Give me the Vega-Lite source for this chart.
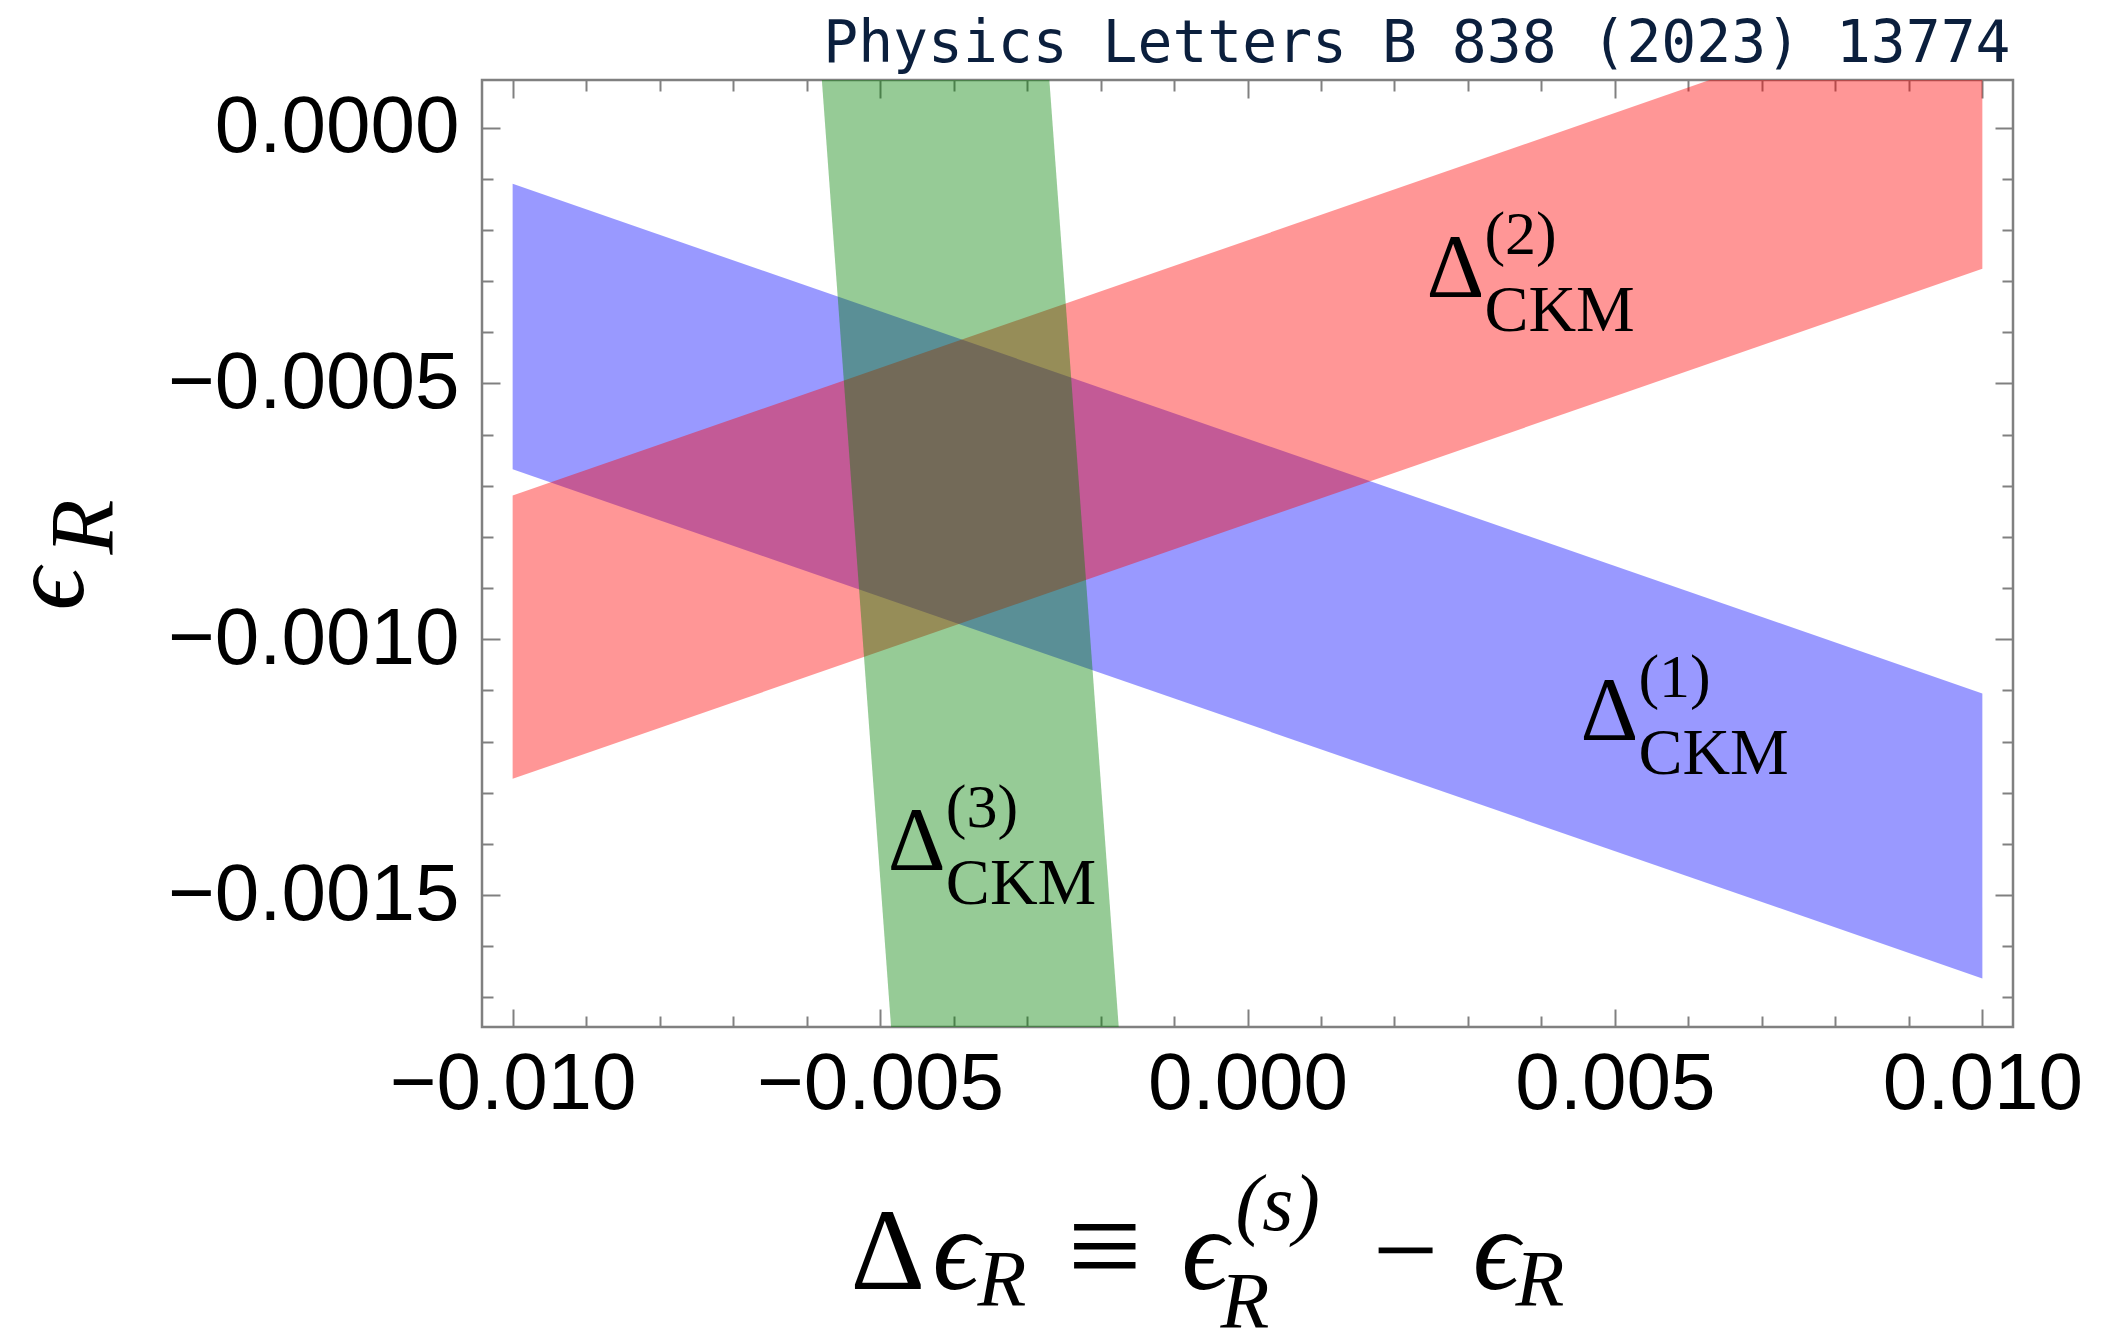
{
  "$schema": "https://vega.github.io/schema/vega-lite/v6.json",
  "autosize": {"type": "none"},
  "width": 1531,
  "height": 947,
  "padding": {"left": 482, "top": 80, "right": 106, "bottom": 304},
  "background": "white",
  "config": {
    "view": {"stroke": "#808080", "strokeWidth": 2.5},
    "axis": {
      "grid": false,
      "domain": false,
      "labelLimit": 0,
      "labelOverlap": false,
      "labelFlush": false,
      "tickColor": "#808080",
      "tickWidth": 2,
      "zindex": 1,
      "titleColor": "#000000",
      "titleFontWeight": "normal",
      "titleAlign": "left",
      "titleBaseline": "alphabetic",
      "titleAnchor": "start"
    }
  },
  "datasets": {
    "ckm1": [
      {"x": -0.01, "lo": -0.000668, "hi": -0.000110},
      {"x": 0.01, "lo": -0.001663, "hi": -0.001106}
    ],
    "ckm2": [
      {"x": -0.01, "lo": -0.001273, "hi": -0.000719},
      {"x": 0.01, "lo": -0.000276, "hi": 0.000278}
    ],
    "ckm3": [
      {"y": 0.0001, "left": -0.005796, "right": -0.002700},
      {"y": -0.0018, "left": -0.004829, "right": -0.001731}
    ],
    "labels": [
      {"x": 0.00453, "y": -0.001197, "main": "Δ", "sub": "CKM", "sup": "(1)"},
      {"x": 0.002435, "y": -0.000331, "main": "Δ", "sub": "CKM", "sup": "(2)"},
      {"x": -0.004894, "y": -0.001451, "main": "Δ", "sub": "CKM", "sup": "(3)"}
    ]
  },
  "resolve": {"axis": {"x": "independent", "y": "independent"}},
  "layer": [
    {
      "data": {"name": "ckm1"},
      "mark": {"type": "area", "orient": "vertical", "clip": true, "color": "#0000ff", "fillOpacity": 0.4},
      "encoding": {
        "x": {
          "field": "x", "type": "quantitative",
          "scale": {"domain": [-0.010417, 0.010417], "nice": false, "zero": false},
          "axis": {
            "orient": "bottom",
            "values": [-0.01, -0.005, 0, 0.005, 0.01],
            "format": ".3f",
            "tickSize": -18,
            "labelFont": "Liberation Sans",
            "labelFontSize": 80,
            "labelColor": "#000000",
            "labelBaseline": "alphabetic",
            "labelPadding": 99,
            "title": "Δ",
            "titleFont": "Liberation Serif",
            "titleFontSize": 116,
            "titleX": 368,
            "titleY": 261,
            "titleAngle": 0
          }
        },
        "y": {
          "field": "hi", "type": "quantitative",
          "scale": {"domain": [-0.001758, 0.000093], "nice": false, "zero": false},
          "axis": {
            "orient": "left",
            "values": [0, -0.0005, -0.001, -0.0015],
            "format": ".4f",
            "tickSize": -18,
            "labelFont": "Liberation Sans",
            "labelFontSize": 80,
            "labelColor": "#000000",
            "labelPadding": 41,
            "title": "ϵ",
            "titleFont": "Liberation Serif, DejaVu Serif",
            "titleFontStyle": "italic",
            "titleFontSize": 106,
            "titleX": -400,
            "titleY": 530,
            "titleAngle": 270
          }
        },
        "y2": {"field": "lo"}
      }
    },
    {
      "data": {"name": "ckm2"},
      "mark": {"type": "area", "orient": "vertical", "clip": true, "color": "#ff0000", "fillOpacity": 0.41},
      "encoding": {
        "x": {
          "field": "x", "type": "quantitative",
          "scale": {"domain": [-0.010417, 0.010417], "nice": false, "zero": false},
          "axis": {
            "orient": "bottom",
            "values": [-0.009, -0.008, -0.007, -0.006, -0.004, -0.003, -0.002, -0.001, 0.001, 0.002, 0.003, 0.004, 0.006, 0.007, 0.008, 0.009],
            "tickSize": -11,
            "labels": false,
            "title": "ϵ",
            "titleFont": "Liberation Serif, DejaVu Serif",
            "titleFontStyle": "italic",
            "titleFontSize": 116,
            "titleX": 450,
            "titleY": 261,
            "titleAngle": 0
          }
        },
        "y": {
          "field": "hi", "type": "quantitative",
          "scale": {"domain": [-0.001758, 0.000093], "nice": false, "zero": false},
          "axis": {
            "orient": "left",
            "values": [-0.0001, -0.0002, -0.0003, -0.0004, -0.0006, -0.0007, -0.0008, -0.0009, -0.0011, -0.0012, -0.0013, -0.0014, -0.0016, -0.0017],
            "tickSize": -11,
            "labels": false,
            "title": "R",
            "titleFont": "Liberation Serif",
            "titleFontStyle": "italic",
            "titleFontSize": 90,
            "titleX": -370,
            "titleY": 474,
            "titleAngle": 270
          }
        },
        "y2": {"field": "lo"}
      }
    },
    {
      "data": {"name": "ckm3"},
      "mark": {"type": "area", "orient": "horizontal", "clip": true, "color": "#008000", "fillOpacity": 0.41},
      "encoding": {
        "y": {
          "field": "y", "type": "quantitative",
          "scale": {"domain": [-0.001758, 0.000093], "nice": false, "zero": false},
          "axis": {
            "orient": "right",
            "values": [0, -0.0005, -0.001, -0.0015],
            "tickSize": -18,
            "labels": false,
            "title": "(s)",
            "titleFont": "Liberation Serif",
            "titleFontStyle": "italic",
            "titleFontSize": 80,
            "titleX": -778,
            "titleY": 1149,
            "titleAngle": 0
          }
        },
        "x": {
          "field": "left", "type": "quantitative",
          "scale": {"domain": [-0.010417, 0.010417], "nice": false, "zero": false},
          "axis": {
            "orient": "top",
            "values": [-0.01, -0.005, 0, 0.005, 0.01],
            "tickSize": -18,
            "labels": false,
            "title": "Physics Letters B 838 (2023) 13774",
            "titleFont": "DejaVu Sans Mono",
            "titleFontSize": 58,
            "titleColor": "#0b1f3d",
            "titleAlign": "right",
            "titleX": 1528,
            "titleY": -19,
            "titleAngle": 0
          }
        },
        "x2": {"field": "right"}
      }
    },
    {
      "data": {"name": "labels"},
      "mark": {"type": "text", "font": "Liberation Serif", "fontSize": 90, "align": "left", "baseline": "alphabetic", "color": "#000000"},
      "encoding": {
        "x": {
          "field": "x", "type": "quantitative",
          "scale": {"domain": [-0.010417, 0.010417], "nice": false, "zero": false},
          "axis": {
            "orient": "top",
            "values": [-0.009, -0.008, -0.007, -0.006, -0.004, -0.003, -0.002, -0.001, 0.001, 0.002, 0.003, 0.004, 0.006, 0.007, 0.008, 0.009],
            "tickSize": -11,
            "labels": false,
            "title": "R",
            "titleFont": "Liberation Serif",
            "titleFontStyle": "italic",
            "titleFontSize": 80,
            "titleX": 495,
            "titleY": 1225,
            "titleAngle": 0
          }
        },
        "y": {
          "field": "y", "type": "quantitative",
          "scale": {"domain": [-0.001758, 0.000093], "nice": false, "zero": false},
          "axis": {
            "orient": "right",
            "values": [-0.0001, -0.0002, -0.0003, -0.0004, -0.0006, -0.0007, -0.0008, -0.0009, -0.0011, -0.0012, -0.0013, -0.0014, -0.0016, -0.0017],
            "tickSize": -11,
            "labels": false,
            "title": "− ϵ",
            "titleFont": "Liberation Serif, DejaVu Serif",
            "titleFontStyle": "italic",
            "titleFontSize": 116,
            "titleX": -648,
            "titleY": 1208,
            "titleAngle": 0
          }
        },
        "text": {"field": "main"}
      }
    },
    {
      "data": {"name": "labels"},
      "mark": {"type": "text", "font": "Liberation Serif", "fontSize": 66, "align": "left", "baseline": "alphabetic", "dx": 58, "dy": 34, "color": "#000000"},
      "encoding": {
        "x": {
          "field": "x", "type": "quantitative",
          "scale": {"domain": [-0.010417, 0.010417], "nice": false, "zero": false},
          "axis": {
            "orient": "bottom",
            "ticks": false,
            "labels": false,
            "title": "ϵ",
            "titleFont": "Liberation Serif, DejaVu Serif",
            "titleFontStyle": "italic",
            "titleFontSize": 116,
            "titleX": 699,
            "titleY": 261,
            "titleAngle": 0
          }
        },
        "y": {
          "field": "y", "type": "quantitative",
          "scale": {"domain": [-0.001758, 0.000093], "nice": false, "zero": false},
          "axis": {
            "orient": "left",
            "ticks": false,
            "labels": false,
            "title": "R",
            "titleFont": "Liberation Serif",
            "titleFontStyle": "italic",
            "titleFontSize": 80,
            "titleX": 1033,
            "titleY": 1225,
            "titleAngle": 0
          }
        },
        "text": {"field": "sub"}
      }
    },
    {
      "data": {"name": "labels"},
      "mark": {"type": "text", "font": "Liberation Serif", "fontSize": 62, "align": "left", "baseline": "alphabetic", "dx": 58, "dy": -43, "color": "#000000"},
      "encoding": {
        "x": {
          "field": "x", "type": "quantitative",
          "scale": {"domain": [-0.010417, 0.010417], "nice": false, "zero": false},
          "axis": {
            "orient": "bottom",
            "ticks": false,
            "labels": false,
            "title": "R",
            "titleFont": "Liberation Serif",
            "titleFontStyle": "italic",
            "titleFontSize": 80,
            "titleX": 738,
            "titleY": 300,
            "titleAngle": 0
          }
        },
        "y": {
          "field": "y", "type": "quantitative",
          "scale": {"domain": [-0.001758, 0.000093], "nice": false, "zero": false},
          "axis": {
            "orient": "left",
            "ticks": false,
            "labels": false,
            "title": "≡",
            "titleFont": "Liberation Serif",
            "titleFontSize": 132,
            "titleX": 585,
            "titleY": 1209,
            "titleAngle": 0
          }
        },
        "text": {"field": "sup"}
      }
    }
  ]
}
